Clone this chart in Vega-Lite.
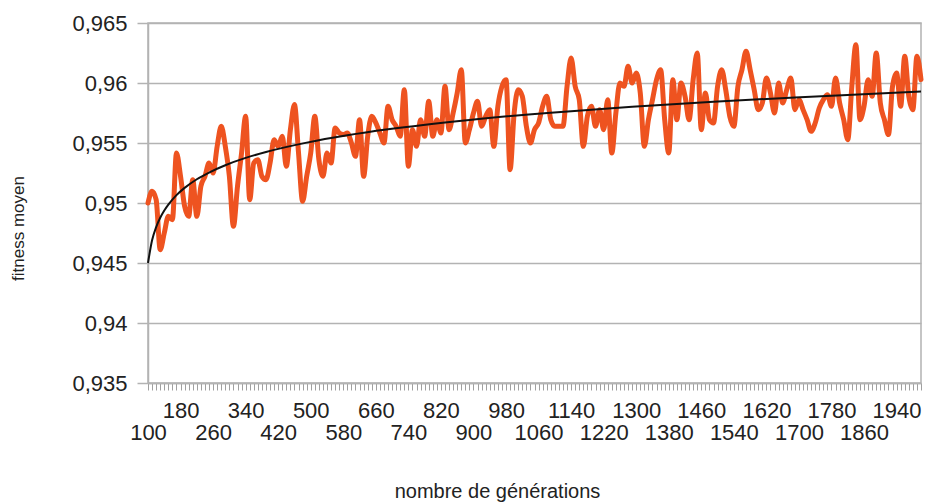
{
  "$schema": "https://vega.github.io/schema/vega-lite/v6.json",
  "width": 773,
  "height": 360,
  "autosize": {"type": "none"},
  "padding": {"left": 148, "top": 23, "right": 9, "bottom": 120},
  "background": "white",
  "config": {
    "view": {"stroke": "#b3b3b3", "strokeWidth": 1.5},
    "font": "Liberation Sans"
  },
  "datasets": {
    "fitness": [
      {"g":100,"f":0.95},{"g":110,"f":0.95097},{"g":120,"f":0.95028},{"g":130,"f":0.94611},{"g":140,"f":0.9475},
      {"g":150,"f":0.94889},{"g":160,"f":0.94861},{"g":170,"f":0.95417},{"g":180,"f":0.95222},{"g":190,"f":0.94972},
      {"g":200,"f":0.94889},{"g":210,"f":0.95194},{"g":220,"f":0.94889},{"g":230,"f":0.95139},{"g":240,"f":0.95222},
      {"g":250,"f":0.95333},{"g":260,"f":0.9525},{"g":270,"f":0.95472},{"g":280,"f":0.95639},{"g":290,"f":0.95472},
      {"g":300,"f":0.95222},{"g":310,"f":0.94806},{"g":320,"f":0.95139},{"g":330,"f":0.95417},{"g":340,"f":0.95722},
      {"g":350,"f":0.95028},{"g":360,"f":0.95333},{"g":370,"f":0.95361},{"g":380,"f":0.95222},{"g":390,"f":0.95194},
      {"g":400,"f":0.95333},{"g":410,"f":0.95528},{"g":420,"f":0.95472},{"g":430,"f":0.95556},{"g":440,"f":0.95306},
      {"g":450,"f":0.95611},{"g":460,"f":0.9582},{"g":470,"f":0.95417},{"g":480,"f":0.95014},{"g":490,"f":0.95222},
      {"g":500,"f":0.95417},{"g":510,"f":0.95722},{"g":520,"f":0.95361},{"g":530,"f":0.95222},{"g":540,"f":0.95417},
      {"g":550,"f":0.95333},{"g":560,"f":0.95625},{"g":570,"f":0.95583},{"g":580,"f":0.9557},{"g":590,"f":0.95583},
      {"g":600,"f":0.955},{"g":610,"f":0.95389},{"g":620,"f":0.95694},{"g":630,"f":0.95222},{"g":640,"f":0.95556},
      {"g":650,"f":0.95722},{"g":660,"f":0.95667},{"g":670,"f":0.95583},{"g":680,"f":0.955},{"g":690,"f":0.95806},
      {"g":700,"f":0.95694},{"g":710,"f":0.95639},{"g":720,"f":0.95556},{"g":730,"f":0.95944},{"g":740,"f":0.95306},
      {"g":750,"f":0.95611},{"g":760,"f":0.95472},{"g":770,"f":0.95694},{"g":780,"f":0.95556},{"g":790,"f":0.95847},
      {"g":800,"f":0.95556},{"g":810,"f":0.95694},{"g":820,"f":0.95583},{"g":830,"f":0.95972},{"g":840,"f":0.95611},
      {"g":850,"f":0.9575},{"g":860,"f":0.95917},{"g":870,"f":0.96111},{"g":880,"f":0.955},{"g":890,"f":0.95611},
      {"g":900,"f":0.9575},{"g":910,"f":0.95847},{"g":920,"f":0.95639},{"g":930,"f":0.95722},{"g":940,"f":0.95778},
      {"g":950,"f":0.95472},{"g":960,"f":0.95806},{"g":970,"f":0.95972},{"g":980,"f":0.96028},{"g":990,"f":0.95278},
      {"g":1000,"f":0.9575},{"g":1010,"f":0.95944},{"g":1020,"f":0.95889},{"g":1030,"f":0.95639},{"g":1040,"f":0.955},
      {"g":1050,"f":0.95611},{"g":1060,"f":0.95667},{"g":1070,"f":0.95806},{"g":1080,"f":0.95889},{"g":1090,"f":0.95694},
      {"g":1100,"f":0.95639},{"g":1110,"f":0.95639},{"g":1120,"f":0.95639},{"g":1130,"f":0.95972},{"g":1140,"f":0.96208},
      {"g":1150,"f":0.95972},{"g":1160,"f":0.95861},{"g":1170,"f":0.95472},{"g":1180,"f":0.95722},{"g":1190,"f":0.95806},
      {"g":1200,"f":0.95639},{"g":1210,"f":0.95778},{"g":1220,"f":0.95611},{"g":1230,"f":0.95861},{"g":1240,"f":0.95417},
      {"g":1250,"f":0.9575},{"g":1260,"f":0.96},{"g":1270,"f":0.95972},{"g":1280,"f":0.96139},{"g":1290,"f":0.96},
      {"g":1300,"f":0.96083},{"g":1310,"f":0.95917},{"g":1320,"f":0.95472},{"g":1330,"f":0.95694},{"g":1340,"f":0.95861},
      {"g":1350,"f":0.96028},{"g":1360,"f":0.96111},{"g":1370,"f":0.95694},{"g":1380,"f":0.95417},{"g":1390,"f":0.96028},
      {"g":1400,"f":0.95694},{"g":1410,"f":0.96},{"g":1420,"f":0.95889},{"g":1430,"f":0.95694},{"g":1440,"f":0.96028},
      {"g":1450,"f":0.9625},{"g":1460,"f":0.95611},{"g":1470,"f":0.95917},{"g":1480,"f":0.95694},{"g":1490,"f":0.95667},
      {"g":1500,"f":0.95972},{"g":1510,"f":0.96111},{"g":1520,"f":0.95944},{"g":1530,"f":0.95722},{"g":1540,"f":0.95639},
      {"g":1550,"f":0.95972},{"g":1560,"f":0.96111},{"g":1570,"f":0.96264},{"g":1580,"f":0.96111},{"g":1590,"f":0.95944},
      {"g":1600,"f":0.95778},{"g":1610,"f":0.95833},{"g":1620,"f":0.96042},{"g":1630,"f":0.95917},{"g":1640,"f":0.9575},
      {"g":1650,"f":0.96},{"g":1660,"f":0.95833},{"g":1670,"f":0.95944},{"g":1680,"f":0.96042},{"g":1690,"f":0.95778},
      {"g":1700,"f":0.95861},{"g":1710,"f":0.95778},{"g":1720,"f":0.95694},{"g":1730,"f":0.95597},{"g":1740,"f":0.95667},
      {"g":1750,"f":0.95792},{"g":1760,"f":0.95861},{"g":1770,"f":0.95903},{"g":1780,"f":0.95806},{"g":1790,"f":0.96042},
      {"g":1800,"f":0.95833},{"g":1810,"f":0.95694},{"g":1820,"f":0.95528},{"g":1830,"f":0.95972},{"g":1840,"f":0.96319},
      {"g":1850,"f":0.95694},{"g":1860,"f":0.95806},{"g":1870,"f":0.96028},{"g":1880,"f":0.95889},{"g":1890,"f":0.9625},
      {"g":1900,"f":0.95833},{"g":1910,"f":0.95694},{"g":1920,"f":0.9557},{"g":1930,"f":0.95972},{"g":1940,"f":0.96083},
      {"g":1950,"f":0.95806},{"g":1960,"f":0.96222},{"g":1970,"f":0.95889},{"g":1980,"f":0.95778},{"g":1990,"f":0.96222},
      {"g":2000,"f":0.96028}
    ],
    "tendance": [
      {"g":100,"f":0.945},{"g":110,"f":0.94689},{"g":120,"f":0.94799},{"g":130,"f":0.94877},{"g":140,"f":0.94938},
      {"g":150,"f":0.94987},{"g":170,"f":0.95066},{"g":190,"f":0.95126},{"g":220,"f":0.95198},{"g":250,"f":0.95254},
      {"g":290,"f":0.95315},{"g":340,"f":0.95376},{"g":390,"f":0.95425},{"g":490,"f":0.95503},{"g":590,"f":0.95564},
      {"g":690,"f":0.95614},{"g":890,"f":0.95692},{"g":1090,"f":0.95753},{"g":1290,"f":0.95802},{"g":1490,"f":0.95844},
      {"g":1690,"f":0.9588},{"g":2000,"f":0.95929}
    ]
  },
  "encoding": {
    "x": {
      "field": "g",
      "type": "quantitative",
      "scale": {"domain": [100, 2000], "nice": false, "zero": false},
      "axis": {
        "title": "nombre de générations",
        "values": [100,110,120,130,140,150,160,170,180,190,200,210,220,230,240,250,260,270,280,290,300,310,320,330,340,350,360,370,380,390,400,410,420,430,440,450,460,470,480,490,500,510,520,530,540,550,560,570,580,590,600,610,620,630,640,650,660,670,680,690,700,710,720,730,740,750,760,770,780,790,800,810,820,830,840,850,860,870,880,890,900,910,920,930,940,950,960,970,980,990,1000,1010,1020,1030,1040,1050,1060,1070,1080,1090,1100,1110,1120,1130,1140,1150,1160,1170,1180,1190,1200,1210,1220,1230,1240,1250,1260,1270,1280,1290,1300,1310,1320,1330,1340,1350,1360,1370,1380,1390,1400,1410,1420,1430,1440,1450,1460,1470,1480,1490,1500,1510,1520,1530,1540,1550,1560,1570,1580,1590,1600,1610,1620,1630,1640,1650,1660,1670,1680,1690,1700,1710,1720,1730,1740,1750,1760,1770,1780,1790,1800,1810,1820,1830,1840,1850,1860,1870,1880,1890,1900,1910,1920,1930,1940,1950,1960,1970,1980,1990,2000],
        "labelExpr": "(datum.value - 100) % 160 == 0 ? ['', format(datum.value, 'd')] : ((datum.value - 100) % 80 == 0 ? format(datum.value, 'd') : '')",
        "labelOverlap": false,
        "labelFlush": false,
        "labelBound": false,
        "labelFontSize": 22,
        "labelColor": "#222222",
        "labelPadding": 10,
        "labelLineHeight": 22,
        "tickSize": 7,
        "tickColor": "#a0a0a0",
        "tickWidth": 1,
        "domainColor": "#b3b3b3",
        "domainWidth": 1.5,
        "grid": false,
        "titleFontSize": 20,
        "titleFontWeight": "normal",
        "titleColor": "#222222",
        "titleX": 349,
        "titleY": 114,
        "titleBaseline": "alphabetic",
        "titleAlign": "center"
      }
    },
    "y": {
      "field": "f",
      "type": "quantitative",
      "scale": {"domain": [0.935, 0.965], "nice": false, "zero": false},
      "axis": {
        "title": "fitness moyen",
        "values": [0.935, 0.94, 0.945, 0.95, 0.955, 0.96, 0.965],
        "labelExpr": "replace(format(datum.value, '.3~f'), '.', ',')",
        "labelFontSize": 22,
        "labelColor": "#222222",
        "labelPadding": 10,
        "tickSize": 11,
        "tickColor": "#b3b3b3",
        "tickWidth": 1.5,
        "domainColor": "#b3b3b3",
        "domainWidth": 1.5,
        "gridColor": "#b3b3b3",
        "gridWidth": 1.5,
        "titleFontSize": 17,
        "titleFontWeight": "normal",
        "titleColor": "#222222",
        "titleAngle": -90,
        "titleX": -130,
        "titleY": 205,
        "titleBaseline": "middle",
        "titleAlign": "center"
      }
    }
  },
  "layer": [
    {
      "data": {"name": "fitness"},
      "mark": {"type": "line", "color": "#EE5320", "strokeWidth": 5, "interpolate": "monotone", "strokeJoin": "round", "strokeCap": "round"}
    },
    {
      "data": {"name": "tendance"},
      "mark": {"type": "line", "color": "#111111", "strokeWidth": 2, "interpolate": "monotone"}
    }
  ]
}
